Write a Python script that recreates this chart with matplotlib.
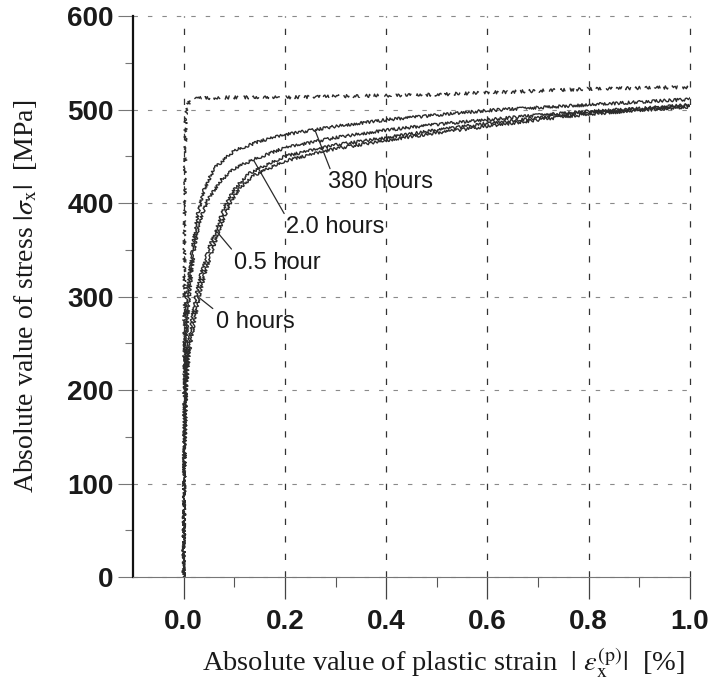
import matplotlib.pyplot as plt

plt.rcParams['font.family'] = ['Liberation Sans', 'DejaVu Sans']
plt.rcParams['mathtext.fontset'] = 'stix'

# stress-strain curves after different ageing times (strain in %, stress in MPa)
strain_380h = [0, 0.001, 0.002, 0.003, 0.006, 0.011, 0.017, 0.027, 0.04, 0.06, 0.1,
               0.15, 0.2, 0.3, 0.4, 0.5, 0.6, 0.7, 0.8, 0.9, 1.0]
stress_380h = [0, 100, 200, 260, 300, 320, 350, 386, 414, 437, 456,
               466, 473, 482, 489, 494, 499, 502, 505, 508, 511]

strain_2h = [0, 0.001, 0.003, 0.006, 0.01, 0.014, 0.02, 0.03, 0.047, 0.073, 0.1,
             0.14, 0.2, 0.3, 0.4, 0.5, 0.6, 0.7, 0.8, 0.9, 1.0]
stress_2h = [0, 100, 200, 260, 295, 318, 348, 378, 403, 424, 437,
             447, 459, 470, 478, 484, 489, 494, 498, 501, 505]

strain_05h = [0, 0.001, 0.004, 0.009, 0.016, 0.024, 0.035, 0.05, 0.065, 0.08, 0.1,
              0.13, 0.2, 0.3, 0.4, 0.5, 0.6, 0.7, 0.8, 0.9, 1.0]
stress_05h = [0, 100, 200, 245, 275, 300, 325, 352, 372, 395, 415,
              432, 450, 462, 470, 478, 485, 491, 497, 500, 504]

strain_0h = [0, 0.001, 0.005, 0.011, 0.02, 0.03, 0.042, 0.058, 0.075, 0.09, 0.11,
             0.14, 0.2, 0.3, 0.4, 0.5, 0.6, 0.7, 0.8, 0.9, 1.0]
stress_0h = [0, 100, 200, 240, 270, 299, 325, 352, 378, 398, 416,
             430, 445, 458, 467, 475, 482, 489, 495, 499, 503]

# dashed reference curve
strain_ref = [0, 0.001, 0.002, 0.004, 0.008, 0.015, 0.1, 0.2, 0.3, 0.4, 0.5,
              0.6, 0.7, 0.8, 0.9, 1.0]
stress_ref = [0, 200, 400, 490, 505, 512, 513, 513, 514, 515, 516,
              518, 520, 522, 523, 524]

x_ticks = [0.0, 0.2, 0.4, 0.6, 0.8, 1.0]
x_ticklabels = ['0.0', '0.2', '0.4', '0.6', '0.8', '1.0']
x_minor = [0.1, 0.3, 0.5, 0.7, 0.9]
y_ticks = [0, 100, 200, 300, 400, 500, 600]
y_minor = [50, 150, 250, 350, 450, 550]

ink = '#2b2b2b'

fig = plt.figure(figsize=(7.16, 6.84), dpi=100)
ax = fig.add_axes([0.1858, 0.1564, 0.7779, 0.8202])

for xs, ys in [(strain_0h, stress_0h), (strain_05h, stress_05h),
               (strain_2h, stress_2h), (strain_380h, stress_380h)]:
    ln, = ax.plot(xs, ys, color=ink, lw=1.0)
    ln.set_sketch_params(scale=1.5, length=2.5, randomness=3)

ln, = ax.plot(strain_ref, stress_ref, color=ink, lw=1.0, ls=(0, (8, 6)))
ln.set_sketch_params(scale=1.6, length=3, randomness=2)

ax.set_xlim(-0.1, 1.0)
ax.set_ylim(0, 600)
ax.set_xticks(x_ticks)
ax.set_xticklabels(x_ticklabels)
ax.set_xticks(x_minor, minor=True)
ax.set_yticks(y_ticks)
ax.set_yticks(y_minor, minor=True)

ax.xaxis.grid(True, ls=(0, (5, 9)), color='#333333', lw=0.9)
ax.yaxis.grid(True, ls=(0, (4, 9)), color='#8a8a8a', lw=0.8)
for gl in ax.get_xgridlines() + ax.get_ygridlines():
    gl.set_clip_on(False)

for side in ['top', 'right']:
    ax.spines[side].set_visible(False)
ax.spines['left'].set_linewidth(1.6)
ax.spines['left'].set_color('#111111')
ax.spines['bottom'].set_linewidth(0.8)
ax.spines['bottom'].set_color('#777777')

ax.tick_params(axis='x', which='major', direction='out', length=16, width=0.9,
               color='#444444', pad=7, labelsize=20, labelcolor='#1a1a1a')
ax.tick_params(axis='x', which='minor', direction='out', length=7, width=0.8,
               color='#555555')
ax.tick_params(axis='y', which='major', direction='out', length=11, width=0.8,
               color='#777777', pad=3, labelsize=20, labelcolor='#1a1a1a')
ax.tick_params(axis='y', which='minor', direction='out', length=6, width=0.8,
               color='#777777')
for lab in ax.get_xticklabels() + ax.get_yticklabels():
    lab.set_fontweight('bold')

ax.set_xlabel(r'Absolute value of plastic strain  $|\ \varepsilon_{\rm x}^{\rm (p)}|$  [%]',
              fontsize=20.5, family='Liberation Serif', color='#1a1a1a')
ax.xaxis.set_label_coords(0.557, -0.122)
ax.set_ylabel(r'Absolute value of stress $|\sigma_{\rm x}|$  [MPa]',
              fontsize=20, family='Liberation Serif', color='#1a1a1a', labelpad=20)

arrow = dict(arrowstyle='-', lw=0.9, color=ink, shrinkA=0, shrinkB=0)
ax.annotate('380 hours', xy=(0.26, 477), xytext=(0.285, 422), fontsize=17,
            ha='left', va='center', color='#1a1a1a',
            arrowprops=dict(arrow, relpos=(0.03, 1.0)))
ax.annotate('2.0 hours', xy=(0.139, 445), xytext=(0.2016, 374), fontsize=17,
            ha='left', va='center', color='#1a1a1a',
            arrowprops=dict(arrow, relpos=(0.0, 1.0)))
ax.annotate('0.5 hour', xy=(0.063, 371), xytext=(0.099, 336), fontsize=17,
            ha='left', va='center', color='#1a1a1a',
            arrowprops=dict(arrow, relpos=(0.0, 1.0)))
ax.annotate('0 hours', xy=(0.030, 299), xytext=(0.063, 273), fontsize=17,
            ha='left', va='center', color='#1a1a1a',
            arrowprops=dict(arrow, relpos=(0.0, 1.0)))

fig.savefig('out.png', dpi=100)
